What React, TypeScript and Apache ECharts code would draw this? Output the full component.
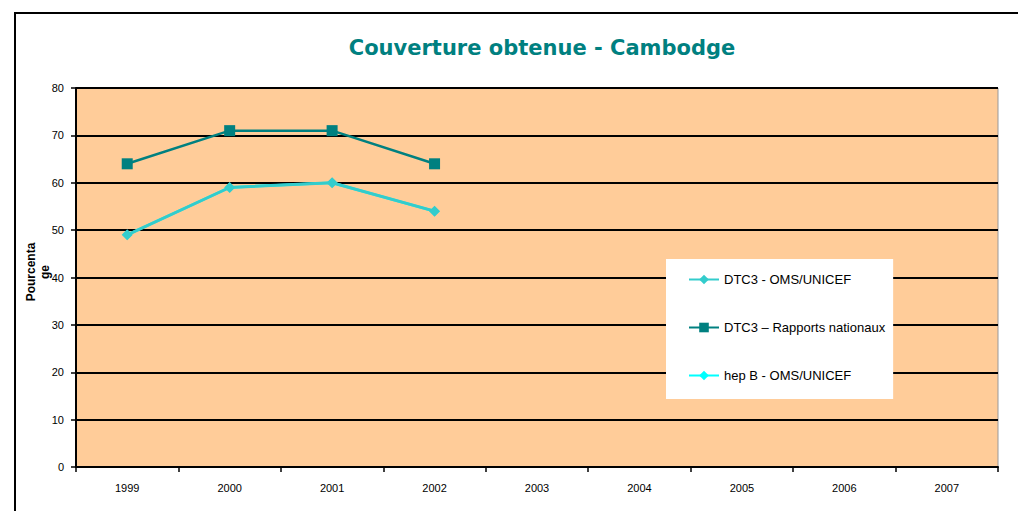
import React, { useEffect, useRef } from "react";
import * as echarts from "echarts";

const years = ["1999", "2000", "2001", "2002", "2003", "2004", "2005", "2006", "2007"];
const dtc3Oms = [49, 59, 60, 54, null, null, null, null, null];
const dtc3Nat = [64, 71, 71, 64, null, null, null, null, null];
const hepBOms = [49, 59, 60, 54, null, null, null, null, null];

export default function App() {
  const ref = useRef<HTMLDivElement>(null);
  useEffect(() => {
    const chart = echarts.init(ref.current!, null, { renderer: "svg" });
    chart.setOption({
      animation: false,
      backgroundColor: "#ffffff",
      title: {
        text: "Couverture obtenue - Cambodge",
        left: 537,
        textAlign: "center",
        top: 32,
        textStyle: { color: "#008080", fontFamily: "DejaVu Sans", fontWeight: "bold", fontSize: 21 },
      },
      graphic: [
        {
          type: "rect",
          shape: { x: 15, y: 13, width: 1020, height: 520 },
          style: { fill: "none", stroke: "#000", lineWidth: 2 },
          z: 10,
        },
        {
          type: "text",
          x: 38,
          y: 272,
          rotation: Math.PI / 2,
          style: {
            text: "Pourcenta\nge",
            fill: "#000",
            fontFamily: "Liberation Sans",
            fontWeight: "bold",
            fontSize: 12,
            lineHeight: 14,
            align: "center",
            verticalAlign: "middle",
          },
        },
      ],
      grid: {
        left: 76,
        top: 88,
        right: 20,
        bottom: 44,
        show: true,
        backgroundColor: "#FFCC99",
        borderColor: "#999999",
        borderWidth: 1,
      },
      legend: {
        orient: "vertical",
        left: 666,
        top: 259,
        padding: [14, 8, 17, 22],
        backgroundColor: "#ffffff",
        itemGap: 35,
        itemWidth: 30,
        itemHeight: 12,
        textStyle: { fontFamily: "Liberation Sans", fontSize: 13, color: "#000" },
        data: ["DTC3 - OMS/UNICEF", "DTC3 – Rapports nationaux", "hep B - OMS/UNICEF"],
      },
      xAxis: {
        type: "category",
        data: years,
        boundaryGap: true,
        axisLine: { lineStyle: { color: "#000", width: 2 } },
        axisTick: { show: true, interval: 0, length: 5, lineStyle: { color: "#000", width: 1.5 } },
        axisLabel: { color: "#000", fontFamily: "Liberation Sans", fontSize: 11, margin: 15, interval: 0 },
        splitLine: { show: false },
      },
      yAxis: {
        type: "value",
        min: 0,
        max: 80,
        interval: 10,
        axisLine: { show: true, lineStyle: { color: "#000", width: 2 } },
        axisTick: { show: true, length: 5, lineStyle: { color: "#000", width: 1.5 } },
        axisLabel: { color: "#000", fontFamily: "Liberation Sans", fontSize: 11, margin: 12 },
        splitLine: { show: true, lineStyle: { color: "#000", width: 2 } },
      },
      series: [
        {
          name: "hep B - OMS/UNICEF",
          type: "line",
          data: hepBOms,
          symbol: "diamond",
          symbolSize: 10,
          lineStyle: { color: "#00FFFF", width: 2.5 },
          itemStyle: { color: "#00FFFF" },
          z: 2,
        },
        {
          name: "DTC3 - OMS/UNICEF",
          type: "line",
          data: dtc3Oms,
          symbol: "diamond",
          symbolSize: 11,
          lineStyle: { color: "#33CCCC", width: 3 },
          itemStyle: { color: "#33CCCC" },
          z: 3,
        },
        {
          name: "DTC3 – Rapports nationaux",
          type: "line",
          data: dtc3Nat,
          symbol: "rect",
          symbolSize: 11,
          lineStyle: { color: "#008080", width: 2.5 },
          itemStyle: { color: "#008080" },
          z: 4,
        },
      ],
    });
    return () => chart.dispose();
  }, []);
  return <div ref={ref} style={{ position: "absolute", left: 0, top: 0, width: 1018, height: 511 }} />;
}
